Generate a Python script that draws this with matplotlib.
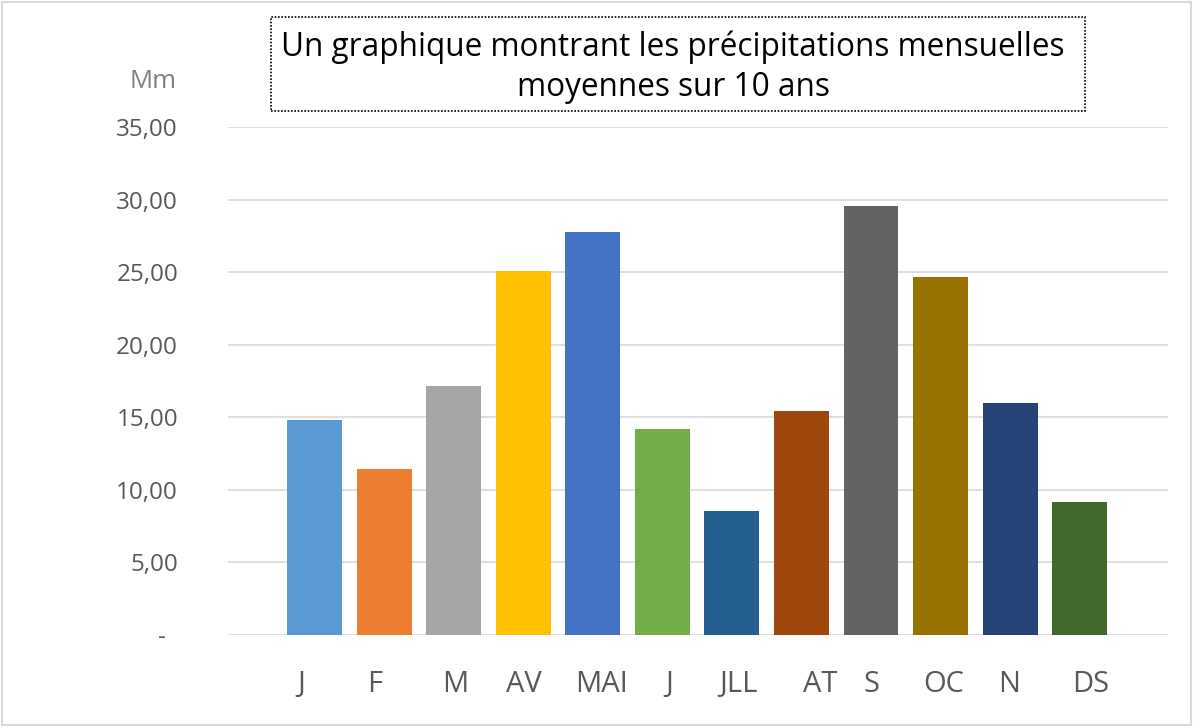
import matplotlib.pyplot as plt
import matplotlib.transforms as mtransforms
from matplotlib.patches import Rectangle

# Data
months = ['J', 'F', 'M', 'AV', 'MAI', 'J', 'JLL', 'AT', 'S', 'OC', 'N', 'DS']
rain = [14.81, 11.44, 17.16, 25.05, 27.77, 14.19, 8.54, 15.43, 29.56, 24.67, 15.98, 9.16]
yticks = [0, 5, 10, 15, 20, 25, 30, 35]
ytick_labels = ['-  ', '5,00', '10,00', '15,00', '20,00', '25,00', '30,00', '35,00']

colors = ['#5B9BD5', '#ED7D31', '#A5A5A5', '#FFC000', '#4472C4', '#70AD47',
          '#255E91', '#9E480E', '#636363', '#997300', '#264478', '#43682B']
# small horizontal nudges of the category labels (points), as in the original
label_nudge = [-9.7, -6.8, 1.1, 0.7, 6.1, 4.7, 4.7, 13.3, 0.7, 2.2, -0.7, 7.9]

fig = plt.figure(figsize=(11.93, 7.27), dpi=100)
ax = fig.add_axes([228 / 1193, 92 / 727, 940 / 1193, 508 / 727])

x = list(range(len(months)))
ax.bar(x, rain, width=0.79, color=colors, zorder=3)

ax.set_ylim(0, 35)
ax.set_xlim(-1.244, 12.27)
ax.set_yticks(yticks)
ax.set_yticklabels(ytick_labels, fontsize=17.5, color='#595959', family='Open Sans')
ax.set_xticks(x)
ax.set_xticklabels(months, fontsize=21, color='#595959', family='Open Sans')
ax.tick_params(axis='both', length=0)
ax.tick_params(axis='y', pad=36)
ax.tick_params(axis='x', pad=25)
for lab, dx in zip(ax.get_xticklabels(), label_nudge):
    lab.set_transform(lab.get_transform() + mtransforms.ScaledTranslation(dx / 72, 0, fig.dpi_scale_trans))

ax.grid(axis='y', color='#D9D9D9', linewidth=1.2, zorder=0)
for s in ax.spines.values():
    s.set_visible(False)

# unit label
fig.text(177 / 1193, 1 - 81 / 727, 'Mm', ha='right', va='center', fontsize=18.5,
         color='#808080', family='Open Sans')

# title in a dotted box
fig.patches.append(Rectangle((271 / 1193, 1 - 111 / 727), 814 / 1193, 94 / 727,
                             transform=fig.transFigure, fill=False, edgecolor='black',
                             linestyle=(0, (1, 1)), linewidth=1.2))
fig.text(673 / 1193, 1 - 67 / 727, 'Un graphique montrant les précipitations mensuelles\nmoyennes sur 10 ans',
         ha='center', va='center', fontsize=22.7, color='black', family='Open Sans',
         linespacing=1.3)

# chart area border
fig.patches.append(Rectangle((2 / 1193, 2 / 727), 1189 / 1193, 723 / 727,
                             transform=fig.transFigure, fill=False, edgecolor='#D9D9D9',
                             linewidth=1.5))

plt.savefig('out.png', dpi=100)
